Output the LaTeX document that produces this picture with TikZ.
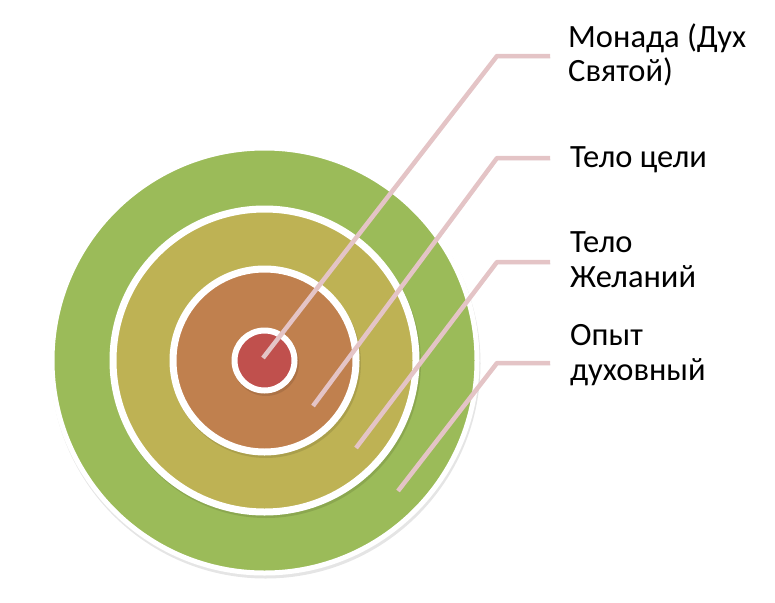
\documentclass[tikz,border=0pt]{standalone}
\usepackage{fontspec}
\setmainfont{Carlito}
\definecolor{ringgreen}{RGB}{155,187,89}
\definecolor{ringolive}{RGB}{190,178,84}
\definecolor{ringorange}{RGB}{192,128,78}
\definecolor{ringred}{RGB}{192,80,77}
\definecolor{leadpink}{RGB}{228,196,198}
\tikzset{
  ringshade/.style={fill=black, opacity=0.10},
  leader/.style={draw=leadpink, line width=4.5pt, line join=round,
    preaction={draw=black!60, opacity=0.15, transform canvas={shift={(0.8pt,-1.8pt)}}}},
  lbltext/.style={anchor=base west, align=left, inner sep=0pt,
    font=\fontsize{32.5}{34.5}\selectfont}
}
\begin{document}
\begin{tikzpicture}[x=1pt, y=-1pt]
\useasboundingbox (0,0) rectangle (775,602);
\coordinate (c) at (264.5,360.5);

% target rings
\fill[ringshade] ([shift={(1,3)}]c) circle (215pt);
\filldraw[fill=ringgreen, draw=white, line width=5pt] (c) circle (212.5pt);
\fill[ringshade] ([shift={(1.5,2.5)}]c) circle (155pt);
\filldraw[fill=ringolive, draw=white, line width=7pt] (c) circle (151.5pt);
\fill[ringshade] ([shift={(1.5,2.5)}]c) circle (95pt);
\filldraw[fill=ringorange, draw=white, line width=7pt] (c) circle (91.5pt);
\fill[ringshade] ([shift={(1.5,2.5)}]c) circle (33pt);
\filldraw[fill=ringred, draw=white, line width=6pt] (c) circle (30pt);

% labels (base = last line)
\node[lbltext] (monad) at (568,81.5) {Монада (Дух\\Святой)};
\node[lbltext] (aim) at (570,167) {Тело цели};
\node[lbltext] (desire) at (570,287) {Тело\\Желаний};
\node[lbltext] (spirit) at (570,380) {Опыт\\духовный};

% leaders
\coordinate (tipmonad) at (263,358);
\coordinate (kneemonad) at (497,56);
\coordinate (tipaim) at (313,406);
\coordinate (kneeaim) at (497,158);
\coordinate (tipdesire) at (356,448);
\coordinate (kneedesire) at (497,262);
\coordinate (tipspirit) at (398,491);
\coordinate (kneespirit) at (497,363);

\draw[leader] (tipmonad) -- (kneemonad) -- ([xshift=-18pt]kneemonad -| monad.west);
\draw[leader] (tipaim) -- (kneeaim) -- ([xshift=-20pt]kneeaim -| aim.west);
\draw[leader] (tipdesire) -- (kneedesire) -- ([xshift=-20pt]kneedesire -| desire.west);
\draw[leader] (tipspirit) -- (kneespirit) -- ([xshift=-20pt]kneespirit -| spirit.west);
\end{tikzpicture}
\end{document}
